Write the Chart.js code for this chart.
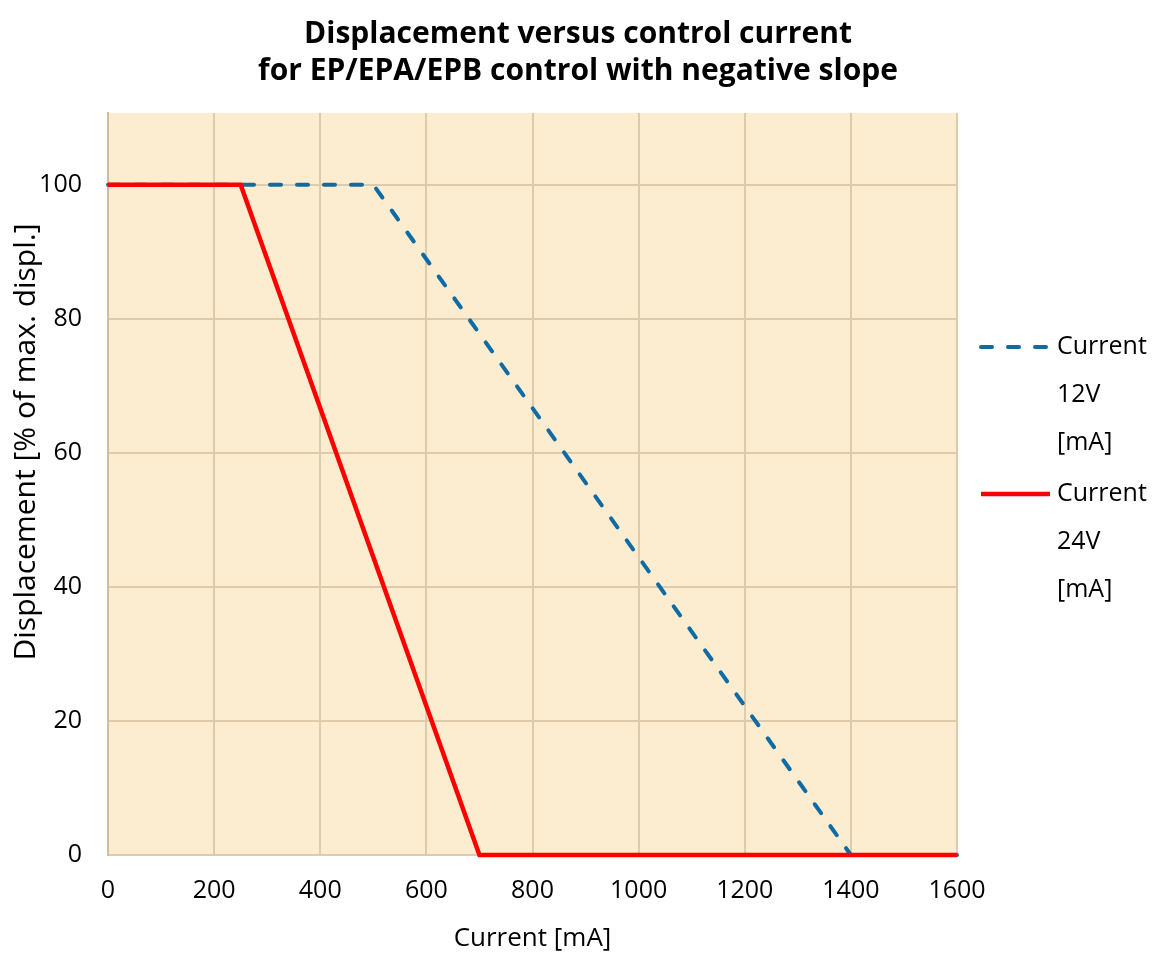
<!DOCTYPE html>
<html>
<head>
<meta charset="utf-8">
<title>Displacement versus control current</title>
<script src="https://cdn.jsdelivr.net/npm/chart.js@4.4.1/dist/chart.umd.min.js"></script>
<style>
  html, body { margin: 0; padding: 0; background: #ffffff; }
  #wrap { width: 1156px; height: 955px; }
</style>
</head>
<body>
<div id="wrap"><canvas id="grafico" width="1156" height="955"></canvas></div>
<script>
// dados
const tituloLinhas = ["Displacement versus control current", "for EP/EPA/EPB control with negative slope"];
const tituloY = "Displacement [% of max. displ.]";
const tituloX = "Current [mA]";
const correnteTicks = [0, 200, 400, 600, 800, 1000, 1200, 1400, 1600];
const deslocTicks = [0, 20, 40, 60, 80, 100];

const corrente12V = [0, 500, 1400, 1600];
const desloc12V = [100, 100, 0, 0];

const corrente24V = [0, 250, 700, 1600];
const desloc24V = [100, 100, 0, 0];

const rotulos = ["Current 12V [mA]", "Current 24V [mA]"];

const fonte = "'Open Sans', sans-serif";

function pontos(xs, ys) {
  return xs.map(function (x, i) { return { x: x, y: ys[i] }; });
}

// fundo da área do gráfico + título centrado no canvas + título do eixo Y
const fundoArea = {
  id: "fundoArea",
  beforeDraw: function (chart) {
    const a = chart.chartArea;
    const ctx = chart.ctx;
    ctx.save();
    ctx.fillStyle = "#FDEDD0";
    ctx.fillRect(a.left, a.top, a.right - a.left, a.bottom - a.top);
    ctx.fillStyle = "#000000";
    ctx.font = "bold 30px " + fonte;
    ctx.textAlign = "center";
    ctx.textBaseline = "middle";
    tituloLinhas.forEach(function (t, i) {
      ctx.fillText(t, chart.width / 2, 34 + i * 37);
    });
    // título do eixo Y (no original fica um pouco acima do centro)
    ctx.translate(26, (a.top + a.bottom) / 2 - 42);
    ctx.rotate(-Math.PI / 2);
    ctx.font = "30px " + fonte;
    ctx.fillText(tituloY, 0, 0);
    ctx.restore();
  }
};

// legenda com texto quebrado em linhas, à direita
const legendaDireita = {
  id: "legendaDireita",
  afterDraw: function (chart) {
    const a = chart.chartArea;
    const ctx = chart.ctx;
    const x0 = a.right + 24;
    const x1 = x0 + 69;
    const alturaLinha = 48;
    let y = a.top + 234;
    ctx.save();
    chart.data.datasets.forEach(function (ds) {
      ctx.beginPath();
      ctx.strokeStyle = ds.borderColor;
      ctx.lineWidth = ds.borderWidth;
      ctx.lineCap = ds.borderCapStyle || "butt";
      ctx.setLineDash(ds.borderDash || []);
      ctx.moveTo(x0, y);
      ctx.lineTo(x1, y);
      ctx.stroke();
      ctx.setLineDash([]);
      ctx.fillStyle = "#000000";
      ctx.font = "25px " + fonte;
      ctx.textBaseline = "middle";
      ctx.textAlign = "left";
      const partes = ds.label.split(" ");
      partes.forEach(function (p, i) {
        ctx.fillText(p, x1 + 7, y + i * alturaLinha);
      });
      y += 147;
    });
    ctx.restore();
  }
};

const ctx = document.getElementById("grafico").getContext("2d");
const grafico = new Chart(ctx, {
  type: "line",
  data: {
    datasets: [
      {
        label: rotulos[0],
        data: pontos(corrente12V, desloc12V),
        borderColor: "#0F6BA3",
        borderWidth: 4,
        borderDash: [11, 16],
        borderCapStyle: "round",
        pointRadius: 0,
        fill: false,
        tension: 0,
        clip: 6,
        order: 5
      },
      {
        label: rotulos[1],
        data: pontos(corrente24V, desloc24V),
        borderColor: "#FF0000",
        borderWidth: 4.5,
        borderCapStyle: "butt",
        pointRadius: 0,
        fill: false,
        tension: 0,
        clip: 6,
        order: 0
      }
    ]
  },
  options: {
    responsive: false,
    animation: false,
    layout: { padding: { left: 0, right: 199, top: 113, bottom: 0 } },
    plugins: {
      legend: { display: false },
      tooltip: { enabled: false },
      title: { display: false }
    },
    scales: {
      x: {
        type: "linear",
        min: 0,
        max: 1600,
        afterBuildTicks: function (scale) {
          scale.ticks = correnteTicks.map(function (v) { return { value: v }; });
        },
        afterFit: function (scale) { scale.height = 100; },
        grid: { color: "#DDCBAC", lineWidth: 2, drawTicks: false },
        border: { display: false },
        ticks: {
          color: "#000000", font: { family: fonte, size: 25 }, padding: 21, maxRotation: 0,
          callback: function (v) { return String(v); }
        },
        title: {
          display: true,
          text: tituloX,
          color: "#000000",
          font: { family: fonte, size: 26 },
          padding: { top: 0, bottom: 1 }
        }
      },
      y: {
        min: 0,
        max: 110.7,
        afterBuildTicks: function (scale) {
          scale.ticks = deslocTicks.map(function (v) { return { value: v }; });
        },
        afterFit: function (scale) { scale.width = 108; },
        grid: { color: "#DDCBAC", lineWidth: 2, drawTicks: false },
        border: { display: true, color: "#D2BD9A", width: 2 },
        ticks: {
          color: "#000000", font: { family: fonte, size: 25 }, padding: 26,
          callback: function (v) { return String(v); }
        },
        title: { display: false }
      }
    }
  },
  plugins: [fundoArea, legendaDireita]
});
</script>
</body>
</html>
